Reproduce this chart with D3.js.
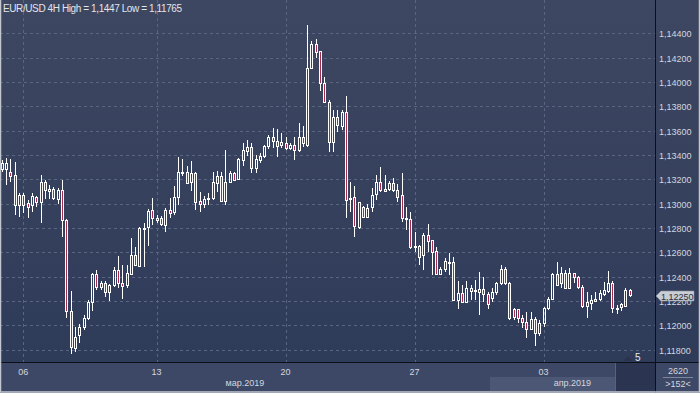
<!DOCTYPE html>
<html>
<head>
<meta charset="utf-8">
<script src="https://cdn.jsdelivr.net/npm/d3@7"></script>
<style>
  html, body { margin: 0; padding: 0; background: #2f3b57; overflow: hidden; }
  svg { display: block; font-family: "Liberation Sans", Arial, sans-serif; }
</style>
</head>
<body>
<div id="chart"></div>
<script>
// 4H bars, index 0 = first bar of 06 Mar 2019
const firstBar = -5;
const opens = [
  1.13285,1.13285,1.13258,1.13236,1.12989,1.13071,1.13003,1.12989,1.13057,1.13016,
  1.13181,1.13107,1.13118,1.13036,1.13112,1.12866,1.12121,1.11812,1.11921,1.11989,
  1.12058,1.12190,1.12420,1.12318,1.12351,1.12277,1.12332,1.12455,1.12351,1.12328,
  1.12422,1.12578,1.12491,1.12792,1.12806,1.12948,1.12868,1.12880,1.12825,1.12948,
  1.12934,1.13053,1.13250,1.13263,1.13181,1.13250,1.13022,1.12995,1.13036,1.13045,
  1.13168,1.13228,1.13025,1.13176,1.13250,1.13201,1.13359,1.13435,1.13464,1.13291,
  1.13359,1.13388,1.13474,1.13546,1.13518,1.13482,1.13501,1.13460,1.13482,1.13441,
  1.13551,1.13482,1.14118,1.14312,1.14255,1.13989,1.13838,1.13510,1.13715,1.13638,
  1.13756,1.13036,1.13057,1.12806,1.12976,1.12893,1.12970,1.13077,1.13176,1.13118,
  1.13118,1.13168,1.13112,1.13071,1.12872,1.12872,1.12655,1.12655,1.12578,1.12743,
  1.12702,1.12614,1.12422,1.12463,1.12515,1.12519,1.12209,1.12264,1.12195,1.12283,
  1.12283,1.12277,1.12296,1.12256,1.12222,1.12277,1.12346,1.12461,1.12351,1.12135,
  1.12135,1.12058,1.12030,1.11970,1.12050,1.11935,1.12022,1.12146,1.12217,1.12420,
  1.12428,1.12428,1.12310,1.12428,1.12395,1.12318,1.12159,1.12187,1.12203,1.12217,
  1.12258,1.12285,1.12346,1.12135,1.12149,1.12162,1.12291
];
const highs = [
  1.13359,1.13373,1.13365,1.13345,1.13085,1.13085,1.13030,1.13090,1.13066,1.13236,
  1.13195,1.13154,1.13135,1.13132,1.13195,1.12874,1.12285,1.11989,1.12012,1.12085,
  1.12209,1.12433,1.12455,1.12367,1.12367,1.12340,1.12482,1.12570,1.12496,1.12496,
  1.12716,1.12646,1.12811,1.12839,1.12956,1.13044,1.12905,1.12899,1.12962,1.13044,
  1.13148,1.13386,1.13367,1.13310,1.13351,1.13261,1.13094,1.13066,1.13085,1.13258,
  1.13271,1.13258,1.13441,1.13269,1.13258,1.13373,1.13496,1.13523,1.13496,1.13400,
  1.13414,1.13482,1.13564,1.13620,1.13612,1.13579,1.13551,1.13496,1.13551,1.13665,
  1.13638,1.14468,1.14339,1.14351,1.14255,1.14043,1.13852,1.13770,1.13770,1.13770,
  1.13885,1.13181,1.13145,1.13011,1.12981,1.12995,1.13132,1.13236,1.13304,1.13236,
  1.13187,1.13209,1.13162,1.13250,1.12976,1.12934,1.12770,1.12660,1.12757,1.12833,
  1.12702,1.12646,1.12482,1.12550,1.12592,1.12564,1.12367,1.12332,1.12367,1.12332,
  1.12373,1.12441,1.12400,1.12277,1.12305,1.12359,1.12496,1.12482,1.12359,1.12146,
  1.12135,1.12085,1.12112,1.12112,1.12067,1.12044,1.12149,1.12236,1.12433,1.12518,
  1.12482,1.12455,1.12469,1.12433,1.12406,1.12332,1.12272,1.12250,1.12277,1.12291,
  1.12354,1.12449,1.12367,1.12167,1.12182,1.12305,1.12296
];
const lows = [
  1.13261,1.13154,1.13181,1.12907,1.12893,1.12921,1.12885,1.12934,1.12976,1.12844,
  1.13036,1.13036,1.13030,1.12995,1.12724,1.12058,1.11765,1.11781,1.11853,1.11962,
  1.12044,1.12118,1.12291,1.12291,1.12231,1.12201,1.12313,1.12305,1.12215,1.12307,
  1.12414,1.12488,1.12482,1.12482,1.12653,1.12825,1.12839,1.12817,1.12770,1.12885,
  1.12907,1.12989,1.13228,1.13160,1.13105,1.12948,1.12934,1.12967,1.12989,1.13030,
  1.13094,1.13016,1.12989,1.13168,1.13187,1.13195,1.13310,1.13394,1.13250,1.13250,
  1.13337,1.13373,1.13447,1.13455,1.13386,1.13455,1.13441,1.13441,1.13359,1.13427,
  1.13468,1.13468,1.14105,1.14195,1.13926,1.13825,1.13427,1.13425,1.13592,1.13606,
  1.12885,1.12934,1.12729,1.12790,1.12893,1.12887,1.12934,1.13030,1.13099,1.13099,
  1.13107,1.13099,1.13016,1.12852,1.12784,1.12625,1.12606,1.12496,1.12455,1.12606,
  1.12414,1.12414,1.12414,1.12439,1.12414,1.12203,1.12135,1.12182,1.12182,1.12209,
  1.12209,1.12085,1.12195,1.12132,1.12195,1.12250,1.12332,1.12332,1.12044,1.12044,
  1.12017,1.11976,1.11894,1.11962,1.11830,1.11913,1.11989,1.12126,1.12209,1.12324,
  1.12305,1.12296,1.12305,1.12351,1.12296,1.12141,1.12058,1.12127,1.12195,1.12203,
  1.12242,1.12264,1.12104,1.12094,1.12121,1.12154,1.12231
];
const closes = [
  1.13335,1.13332,1.13230,1.12989,1.13071,1.12989,1.12976,1.13063,1.13016,1.13176,
  1.13112,1.13118,1.13045,1.13112,1.12866,1.12121,1.11823,1.11907,1.11985,1.12058,
  1.12195,1.12422,1.12313,1.12346,1.12277,1.12332,1.12455,1.12346,1.12324,1.12428,
  1.12578,1.12496,1.12803,1.12803,1.12943,1.12880,1.12880,1.12831,1.12948,1.12926,
  1.13053,1.13258,1.13258,1.13168,1.13250,1.13011,1.12995,1.13036,1.13049,1.13176,
  1.13228,1.13025,1.13176,1.13250,1.13195,1.13365,1.13441,1.13464,1.13291,1.13365,
  1.13392,1.13470,1.13551,1.13518,1.13474,1.13510,1.13460,1.13482,1.13441,1.13551,
  1.13496,1.14113,1.14312,1.14249,1.13989,1.13838,1.13510,1.13715,1.13647,1.13756,
  1.13030,1.13049,1.12817,1.13011,1.12893,1.12967,1.13071,1.13176,1.13112,1.13107,
  1.13172,1.13112,1.13057,1.12880,1.12880,1.12646,1.12646,1.12564,1.12743,1.12696,
  1.12606,1.12422,1.12463,1.12525,1.12524,1.12209,1.12269,1.12195,1.12305,1.12310,
  1.12291,1.12296,1.12256,1.12174,1.12277,1.12346,1.12461,1.12351,1.12058,1.12067,
  1.12058,1.12030,1.11970,1.12050,1.11935,1.12022,1.12146,1.12217,1.12420,1.12332,
  1.12346,1.12305,1.12428,1.12395,1.12318,1.12159,1.12190,1.12209,1.12217,1.12264,
  1.12291,1.12346,1.12141,1.12146,1.12176,1.12291,1.12250
];

const priceTicks = [1.118, 1.120, 1.122, 1.124, 1.126, 1.128, 1.130, 1.132, 1.134, 1.136, 1.138, 1.140, 1.142, 1.144];
const dayTicks = [0, 31, 61, 91, 121];
const dayLabels = ["06", "13", "20", "27", "03"];
const monthStarts = [-5.42, 108.5];
const monthLabels = ["мар.2019", "апр.2019"];
const lastPrice = 1.1225;
const titleText = "EUR/USD 4H High = 1,1447 Low = 1,11765";
const barCount = "2620";
const visibleBars = ">152<";

const W = 700, H = 393;
const plotW = 655, plotH = 362;

const bars = opens.map((o, k) => ({
  i: firstBar + k, o: o, h: highs[k], l: lows[k], c: closes[k]
}));

const x = d3.scaleLinear().domain([-5.42, 146.9]).range([0, plotW]);
const y = d3.scaleLinear().domain([1.118, 1.144]).range([349.7, 33.3]);
const fmt = v => d3.format(".5f")(v).replace(".", ",");

const svg = d3.select("#chart").append("svg")
  .attr("width", W)
  .attr("height", H);

const defs = svg.append("defs");
const bg = defs.append("linearGradient").attr("id", "bg")
  .attr("x1", 0).attr("y1", 0).attr("x2", 0).attr("y2", 1);
bg.append("stop").attr("offset", "0%").attr("stop-color", "#3e4761");
bg.append("stop").attr("offset", "100%").attr("stop-color", "#2e3b59");

svg.append("rect")
  .attr("width", W).attr("height", plotH)
  .attr("fill", "url(#bg)");

// bottom panel
svg.append("rect")
  .attr("x", 0).attr("y", plotH).attr("width", W).attr("height", H - plotH)
  .attr("fill", "#3c4866");
svg.append("rect")
  .attr("x", x(monthStarts[1])).attr("y", 377).attr("width", 615 - x(monthStarts[1])).attr("height", 14)
  .attr("fill", "#4b5774");
svg.append("rect")
  .attr("x", 615).attr("y", plotH).attr("width", plotW - 615).attr("height", 29)
  .attr("fill", "#2b3551");
svg.append("line")
  .attr("x1", 615.5).attr("x2", 615.5).attr("y1", plotH).attr("y2", 391)
  .attr("stroke", "#56627e");

// grid
const grid = svg.append("g")
  .attr("stroke", "#5a6681")
  .attr("stroke-dasharray", "3,3")
  .attr("shape-rendering", "crispEdges");
grid.selectAll(".hg")
  .data(priceTicks)
  .join("line")
    .attr("x1", 0).attr("x2", plotW)
    .attr("y1", d => Math.round(y(d)) + 0.5)
    .attr("y2", d => Math.round(y(d)) + 0.5);
grid.selectAll(".vg")
  .data(dayTicks)
  .join("line")
    .attr("x1", d => Math.round(x(d)) + 0.5)
    .attr("x2", d => Math.round(x(d)) + 0.5)
    .attr("y1", 0).attr("y2", plotH);

// candles
const candles = svg.append("g")
  .attr("shape-rendering", "crispEdges");

const cg = candles.selectAll("g")
  .data(bars)
  .join("g");

cg.each(function(d) {
  const g = d3.select(this);
  const cx = Math.round(x(d.i));
  const top = Math.round(y(Math.max(d.o, d.c)));
  const bot = Math.max(top + 1, Math.round(y(Math.min(d.o, d.c))));
  const yh = Math.round(y(d.h));
  const yl = Math.round(y(d.l));
  if (yh < top) {
    g.append("line")
      .attr("x1", cx + 0.5).attr("x2", cx + 0.5)
      .attr("y1", yh).attr("y2", top)
      .attr("stroke", "#ffffff");
  }
  if (yl > bot) {
    g.append("line")
      .attr("x1", cx + 0.5).attr("x2", cx + 0.5)
      .attr("y1", bot).attr("y2", yl)
      .attr("stroke", "#ffffff");
  }
  g.append("rect")
    .attr("x", cx - 0.5).attr("width", 2)
    .attr("y", top + 0.5).attr("height", bot - top)
    .attr("fill", d.c < d.o ? "#a82a4c" : "none")
    .attr("stroke", "#ffffff");
});

// separators
svg.append("line")
  .attr("x1", plotW + 0.5).attr("x2", plotW + 0.5).attr("y1", 0).attr("y2", H)
  .attr("stroke", "#0b0f18");
svg.append("line")
  .attr("x1", 0).attr("x2", W).attr("y1", plotH + 0.5).attr("y2", plotH + 0.5)
  .attr("stroke", "#0b0f18");

// price axis labels
svg.append("g")
  .selectAll("text")
  .data(priceTicks)
  .join("text")
    .attr("x", 659)
    .attr("y", d => y(d) + 4)
    .attr("fill", "#d3d7df")
    .style("font-size", "9px")
    .text(fmt);

// last price tag
const ly = Math.round(y(lastPrice)) + 1;
svg.append("path")
  .attr("d", `M656,${ly} L661,${ly - 5} L694,${ly - 5} L694,${ly + 5} L661,${ly + 5} Z`)
  .attr("fill", "#c9cdd4")
  .attr("stroke", "#8a909c")
  .attr("stroke-width", 0.6);
svg.append("text")
  .attr("x", 661)
  .attr("y", ly + 3.5)
  .attr("fill", "#2a2f3a")
  .style("font-size", "9px")
  .text(fmt(lastPrice));

// day labels
svg.append("g")
  .selectAll("text")
  .data(dayTicks)
  .join("text")
    .attr("x", d => x(d))
    .attr("y", 374.5)
    .attr("text-anchor", "middle")
    .attr("fill", "#d3d7df")
    .style("font-size", "9px")
    .text((d, k) => dayLabels[k]);

// month labels, centred in their visible span
svg.append("g")
  .selectAll("text")
  .data(monthStarts)
  .join("text")
    .attr("x", (d, k) => (Math.max(0, x(d)) + (k < monthStarts.length - 1 ? x(monthStarts[k + 1]) : plotW)) / 2)
    .attr("y", 386)
    .attr("text-anchor", "middle")
    .attr("fill", "#d3d7df")
    .style("font-size", "9px")
    .text((d, k) => monthLabels[k]);

// scroll marker
svg.append("path")
  .attr("d", "M623,361 L628,356 L633,361 Z")
  .attr("fill", "#2a3450");
svg.append("text")
  .attr("x", 635).attr("y", 361)
  .attr("fill", "#e6e9ee")
  .style("font-size", "10px")
  .text("5");

// bar counter box
svg.append("text")
  .attr("x", 678).attr("y", 373.5)
  .attr("text-anchor", "middle")
  .attr("fill", "#d3d7df")
  .style("font-size", "9px")
  .text(barCount);
svg.append("line")
  .attr("x1", 663).attr("x2", 693).attr("y1", 377.5).attr("y2", 377.5)
  .attr("stroke", "#7c869c");
svg.append("text")
  .attr("x", 678).attr("y", 387)
  .attr("text-anchor", "middle")
  .attr("fill", "#d3d7df")
  .style("font-size", "9px")
  .text(visibleBars);

// title
svg.append("text")
  .attr("x", 3).attr("y", 12)
  .attr("fill", "#e2e5eb")
  .style("font-size", "10px")
  .style("letter-spacing", "-0.4px")
  .text(titleText);

// outer frame
svg.append("path")
  .attr("d", `M0.5,0 V${H - 1} H${W - 0.5} V0`)
  .attr("fill", "none")
  .attr("stroke", "#c2c6ce")
  .attr("stroke-width", 1.5);
</script>
</body>
</html>
